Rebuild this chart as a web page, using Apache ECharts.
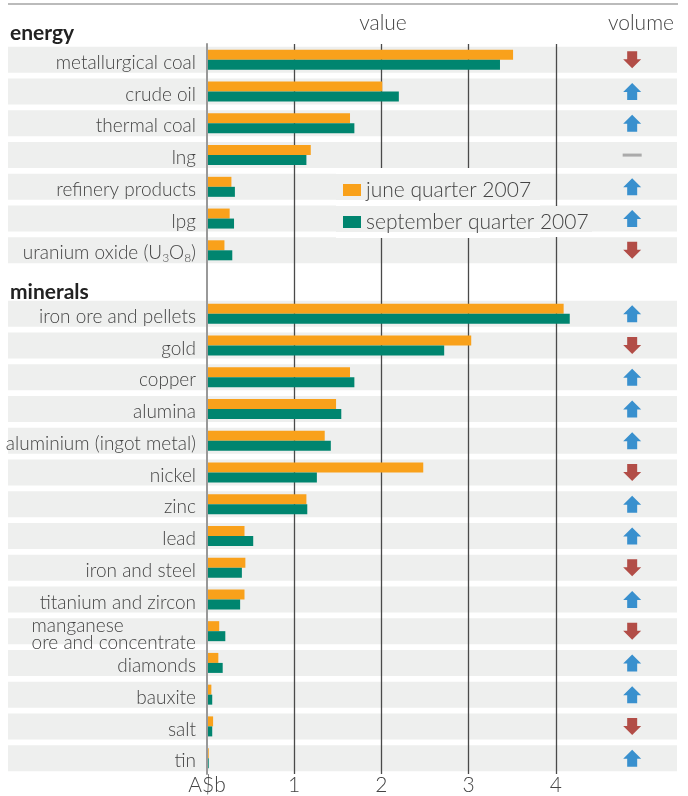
<!DOCTYPE html>
<html lang="en">
<head>
<meta charset="UTF-8">
<title>Commodity exports</title>
<script src="https://cdn.jsdelivr.net/npm/echarts@6.0.0/dist/echarts.min.js"></script>
<style>
  html, body { margin: 0; padding: 0; background: #fff; }
  #main { width: 688px; height: 796px; }
</style>
</head>
<body>
<div id="main"></div>
<script>
// energy rows (A$b)
var energyNames = ['metallurgical coal', 'crude oil', 'thermal coal', 'lng', 'refinery products', 'lpg', 'uranium oxide (U3O8)'];
var energyJune = [3.51, 2.01, 1.64, 1.19, 0.28, 0.26, 0.20];
var energySept = [3.36, 2.20, 1.69, 1.14, 0.32, 0.31, 0.29];
var energyVolume = ['down', 'up', 'up', 'flat', 'up', 'up', 'down'];

// minerals rows (A$b)
var mineralNames = ['iron ore and pellets', 'gold', 'copper', 'alumina', 'aluminium (ingot metal)', 'nickel', 'zinc', 'lead',
  'iron and steel', 'titanium and zircon', 'manganese ore and concentrate', 'diamonds', 'bauxite', 'salt', 'tin'];
var mineralJune = [4.09, 3.03, 1.64, 1.48, 1.35, 2.48, 1.14, 0.43, 0.44, 0.43, 0.14, 0.13, 0.05, 0.07, 0.02];
var mineralSept = [4.16, 2.72, 1.69, 1.54, 1.42, 1.26, 1.15, 0.53, 0.40, 0.38, 0.21, 0.18, 0.06, 0.06, 0.02];
var mineralVolume = ['up', 'down', 'up', 'up', 'up', 'down', 'up', 'up', 'down', 'up', 'down', 'up', 'up', 'down', 'up'];

var seriesNames = ['june quarter 2007', 'september quarter 2007'];
var xTickLabels = ['A$b', '1', '2', '3', '4'];

var FONT = 'Lato';
var TEXT = '#444';
var BAND = '#eeefee';

// one blank row between the two groups (holds the "minerals" heading)
var categories = energyNames.concat([''], mineralNames);
var june = energyJune.concat(['-'], mineralJune);
var sept = energySept.concat(['-'], mineralSept);
var volume = energyVolume.concat([null], mineralVolume);
var bands = categories.map(function (c) { return c === '' ? '-' : 1; });

var UP = 'path://M9,0L18,9L14,9L14,17L4,17L4,9L0,9Z';
var DOWN = 'path://M4,0L14,0L14,8L18,8L9,17L0,8L4,8Z';
var volumeData = [];
categories.forEach(function (c, i) {
  var v = volume[i];
  if (!v) return;
  var item = { value: [0.933, c] };
  if (v === 'up') {
    item.symbol = UP; item.symbolSize = [18, 17]; item.itemStyle = { color: '#0b78c6' };
  } else if (v === 'down') {
    item.symbol = DOWN; item.symbolSize = [18, 17]; item.itemStyle = { color: '#a3241d' };
  } else {
    item.symbol = 'rect'; item.symbolSize = [19, 3]; item.itemStyle = { color: '#999' };
  }
  volumeData.push(item);
});

function catLabel(name) {
  if (name.indexOf('U3O8') >= 0) return '{n|uranium oxide (U}{s|3}{n|O}{s|8}{n|)}';
  if (name.indexOf('manganese') === 0) return '{l|manganese}\n{l|ore and concentrate}';
  return name;
}

var myChart = echarts.init(document.getElementById('main'));

var option = {
  animation: false,
  backgroundColor: '#fff',
  textStyle: { fontFamily: FONT },
  grid: [
    { left: 207, right: 45, top: 44, bottom: 22, outerBoundsMode: 'none' },
    { left: 8, right: 11, top: 44, bottom: 22, outerBoundsMode: 'none' }
  ],
  legend: {
    data: seriesNames,
    orient: 'vertical',
    left: 343, top: 179,
    padding: 0,
    itemGap: 10,
    itemWidth: 18, itemHeight: 12,
    icon: 'rect',
    z: 5,
    textStyle: { fontFamily: FONT, fontWeight: 300, fontSize: 21, color: TEXT, lineHeight: 22 }
  },
  xAxis: [{
    gridIndex: 0, type: 'value', min: 0, max: 5, interval: 1, z: 2,
    axisLine: { show: false }, axisTick: { show: false },
    splitLine: { show: true, showMinLine: false, showMaxLine: false, lineStyle: { color: '#4a4a4a', width: 1.3 } },
    axisLabel: {
      margin: 1, fontSize: 21, fontWeight: 300, color: TEXT, fontFamily: FONT, showMaxLabel: false,
      formatter: function (v) { return xTickLabels[v] || ''; }
    }
  }, {
    gridIndex: 1, type: 'value', min: 0, max: 1, show: false
  }],
  yAxis: [{
    gridIndex: 0, type: 'category', data: categories, inverse: true, z: 6,
    axisLine: { show: true, lineStyle: { color: '#999', width: 2 } },
    axisTick: { show: false },
    axisLabel: {
      margin: 11, fontSize: 19, fontWeight: 300, color: TEXT, fontFamily: FONT, interval: 0,
      padding: [6, 0, 0, 0],
      formatter: catLabel,
      rich: {
        n: { fontSize: 19, fontWeight: 300, color: TEXT, fontFamily: FONT, lineHeight: 22, verticalAlign: 'middle' },
        s: { fontSize: 12, fontWeight: 300, color: TEXT, fontFamily: FONT, lineHeight: 12, verticalAlign: 'bottom' },
        l: { fontSize: 19, fontWeight: 300, color: TEXT, fontFamily: FONT, lineHeight: 17, align: 'left' }
      }
    }
  }, {
    gridIndex: 1, type: 'category', data: categories, inverse: true, show: false
  }],
  graphic: [
    { type: 'line', shape: { x1: 8, y1: 4, x2: 678, y2: 4 }, style: { stroke: '#bbb', lineWidth: 2 }, z: 3 },
    { type: 'text', x: 383, y: 23, style: { text: 'value', font: '300 21px Lato', fill: TEXT, textAlign: 'center', textVerticalAlign: 'middle' } },
    { type: 'text', x: 641, y: 23, style: { text: 'volume', font: '300 21px Lato', fill: TEXT, textAlign: 'center', textVerticalAlign: 'middle' } },
    { type: 'text', x: 10, y: 33, style: { text: 'energy', font: 'bold 21px Lato', fill: '#222', textVerticalAlign: 'middle' } },
    { type: 'text', x: 10, y: 292, style: { text: 'minerals', font: 'bold 21px Lato', fill: '#222', textVerticalAlign: 'middle' } },
    // the legend box hides the grid lines behind it
    { type: 'rect', shape: { x: 336, y: 168, width: 204, height: 70 }, style: { fill: '#fff' }, z: 3, silent: true },
    { type: 'rect', shape: { x: 540, y: 206, width: 52, height: 31 }, style: { fill: '#fff' }, z: 3, silent: true },
    { type: 'rect', shape: { x: 336, y: 174, width: 204, height: 26 }, style: { fill: BAND }, z: 3, silent: true },
    { type: 'rect', shape: { x: 336, y: 206, width: 256, height: 26 }, style: { fill: BAND }, z: 3, silent: true }
  ],
  series: [{
    type: 'bar', xAxisIndex: 1, yAxisIndex: 1, data: bands, barWidth: 26, z: 1, silent: true,
    itemStyle: { color: BAND }
  }, {
    name: seriesNames[0], type: 'bar', xAxisIndex: 0, yAxisIndex: 0, data: june,
    barWidth: 10, barGap: '0%', z: 4, itemStyle: { color: '#f9a11b' }
  }, {
    name: seriesNames[1], type: 'bar', xAxisIndex: 0, yAxisIndex: 0, data: sept,
    barWidth: 10, barGap: '0%', z: 4, itemStyle: { color: '#00856f' }
  }, {
    type: 'scatter', xAxisIndex: 1, yAxisIndex: 1, data: volumeData, z: 4, silent: true
  }]
};

myChart.setOption(option);
</script>
</body>
</html>
